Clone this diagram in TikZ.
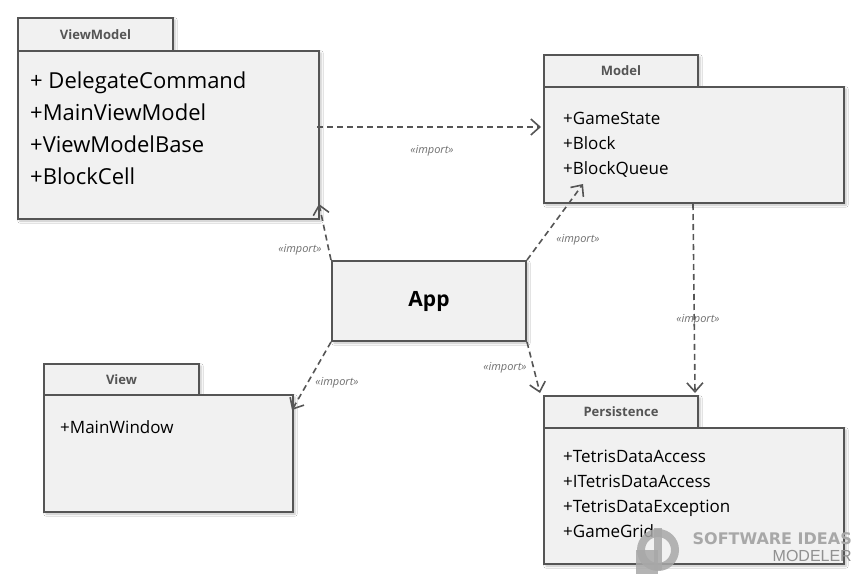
\documentclass[tikz,border=0pt]{standalone}
\usepackage{fontspec}
\setmainfont{Open Sans}
\newfontfamily\wmbold{DejaVu Sans}
\newfontfamily\wmreg{Liberation Sans}
\usetikzlibrary{arrows.meta,shadows.blur,calc}
\definecolor{pkgfill}{HTML}{F1F1F1}
\definecolor{pkgline}{HTML}{555555}
\definecolor{lbl}{HTML}{707070}
\definecolor{wm}{HTML}{A8A8A8}
\definecolor{wmdark}{HTML}{909090}
\begin{document}
\begin{tikzpicture}[x=1pt,y=-1pt,
  pkg/.style={draw=pkgline, fill=pkgfill, line width=2pt, anchor=north west, inner sep=0pt,
    blur shadow={shadow xshift=2pt,shadow yshift=-2pt,shadow blur steps=4,shadow opacity=25}},
  tabtitle/.style={font=\fontsize{13}{15}\selectfont\bfseries, text=pkgline},
  items/.style={anchor=north west, inner sep=0pt, align=left, text=black},
  bigitems/.style={items, font=\fontsize{22}{32}\selectfont},
  smallitems/.style={items, font=\fontsize{17}{25}\selectfont},
  dep/.style={draw=pkgline, line width=1.6pt, dash pattern=on 6pt off 4pt,
    -{Straight Barb[length=9pt,width=16pt,line width=1.6pt]}},
  deplbl/.style={font=\fontsize{11}{13}\selectfont\itshape, text=lbl, inner sep=1pt}]
\useasboundingbox[fill=white] (0,0) rectangle (863,584);

% ViewModel
\node[pkg, tabtitle, minimum width=155pt, minimum height=33pt] (vmtab) at (17,17) {ViewModel};
\node[pkg, minimum width=301pt, minimum height=168pt] (vm) at (17,50) {};
\node[bigitems] (vmitems) at (30,72) {+ DelegateCommand\\+MainViewModel\\+ViewModelBase\\+BlockCell};

% Model
\node[pkg, tabtitle, minimum width=154pt, minimum height=32pt] (mtab) at (543,54) {Model};
\node[pkg, minimum width=300pt, minimum height=116pt] (m) at (543,86) {};
\node[smallitems] (mitems) at (563,112) {+GameState\\+Block\\+BlockQueue};

% View
\node[pkg, tabtitle, minimum width=155pt, minimum height=31pt] (vtab) at (43,363) {View};
\node[pkg, minimum width=249pt, minimum height=117pt] (v) at (43,394) {};
\node[smallitems] (vitems) at (60,420) {+MainWindow};

% Persistence
\node[pkg, tabtitle, minimum width=154pt, minimum height=32pt] (ptab) at (543,395) {Persistence};
\node[pkg, minimum width=300pt, minimum height=136pt] (p) at (543,427) {};
\node[smallitems] (pitems) at (563,450) {+TetrisDataAccess\\+ITetrisDataAccess\\+TetrisDataException\\+GameGrid};

% App
\node[pkg, anchor=center, minimum width=194pt, minimum height=80pt,
  font=\fontsize{21}{24}\selectfont\bfseries, text=black] (app) at (429,301) {\raisebox{-2pt}{App}};

% dependencies
\draw[dep] ($(vm.north east)+(-3,77)$) -- ($(m.north west)+(-2,41)$);
\draw[dep] (app.north west) -- ($(vm.south east)+(-1,-16)$);
\draw[dep] (app.north east) -- ($(m.south west)+(40,-20)$);
\draw[dep] (app.south west) -- ($(v.north east)+(-2,16)$);
\draw[dep] (app.south east) -- ($(ptab.north west)+(-3,-2)$);
\draw[dep] ($(m.south west)+(150,0)$) -- ($(ptab.north east)+(-4,-2)$);

\node[deplbl] (l1) at (432,151) {«import»};
\node[deplbl] (l2) at (300,250) {«import»};
\node[deplbl] (l3) at (578,240) {«import»};
\node[deplbl] (l4) at (337,383) {«import»};
\node[deplbl] (l5) at (505,368) {«import»};
\node[deplbl] (l6) at (698,320) {«import»};

% watermark
\begin{scope}[opacity=0.85]
\draw[wm, line width=8pt] (658,550) circle (17);
\fill[wm] (636,550) rectangle (658,574);
\fill[wm] (654,528) rectangle (662,570);
\end{scope}
\node[anchor=north east, inner sep=0pt, align=right, font=\fontsize{16}{17}\selectfont] (wmtext) at (852,532)
  {{\wmbold\bfseries\color{wm}SOFTWARE IDEAS}\\{\wmreg\fontsize{16}{17}\selectfont\color{wmdark}MODELER}};
\end{tikzpicture}
\end{document}
